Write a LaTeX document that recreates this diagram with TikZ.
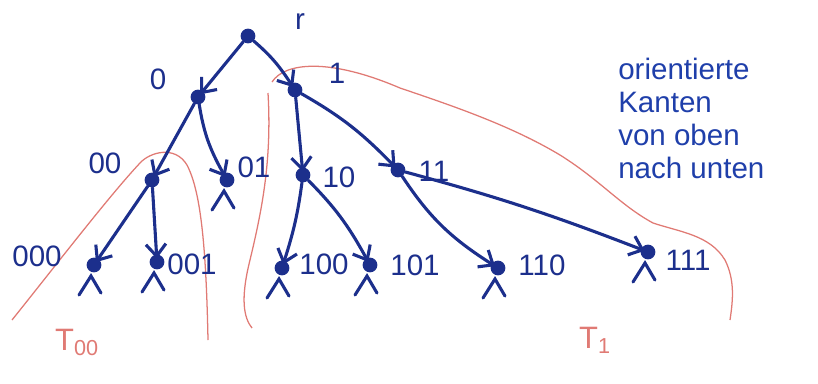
\documentclass[tikz,border=0pt]{standalone}
\usepackage{fontspec}
\setmainfont{Liberation Sans}
\usetikzlibrary{arrows.meta}
\definecolor{pen}{HTML}{1C2F8C}
\definecolor{inkb}{HTML}{1F3FAA}
\definecolor{redpen}{HTML}{E07A74}
\tikzset{
  vtx/.style={circle,fill=pen,inner sep=0pt,minimum size=10.5pt},
  lbl/.style={text=pen,font=\fontsize{21}{24}\selectfont,inner sep=0pt},
  edge/.style={draw=pen,line width=2.2pt,line cap=round,-{Straight Barb[length=3mm,width=5mm,line width=2.2pt]},shorten >=-3pt},
  nilmark/.style={draw=pen,line width=2.2pt,line cap=round},
  region/.style={draw=redpen,line width=0.9pt},
  redlbl/.style={text=redpen,font=\fontsize{22}{24}\selectfont,inner sep=0pt},
  note/.style={text=inkb,font=\fontsize{21}{23.5}\selectfont,align=left,inner sep=0pt}
}
\begin{document}
\begin{tikzpicture}[x=0.025cm,y=-0.025cm]
\useasboundingbox (0,0) rectangle (818,383);
% red subtree regions
\draw[region] (12,320) .. controls (60,260) and (110,195) .. (140,163)
  .. controls (150,152) and (175,145) .. (187,165)
  .. controls (200,190) and (206,240) .. (208,340);
\draw[region] (268,93) .. controls (272,160) and (262,210) .. (250,260)
  .. controls (240,300) and (244,318) .. (252,328);
\draw[region] (272,82) .. controls (285,62) and (330,58) .. (400,88)
  .. controls (450,105) and (510,125) .. (560,155)
  .. controls (600,180) and (620,205) .. (653,223)
  .. controls (680,232) and (710,235) .. (725,260)
  .. controls (735,280) and (733,300) .. (730,320);
\node[redlbl] (T00) at (77,342) {T$_{\mathrm{00}}$};
\node[redlbl] (T1) at (595,340) {T$_{\mathrm{1}}$};
% vertices
\node[vtx] (r) at (248,36) {};
\node[vtx] (n0) at (198,97) {};
\node[vtx] (n1) at (295,90) {};
\node[vtx] (n00) at (152,180) {};
\node[vtx] (n01) at (227,180) {};
\node[vtx] (n10) at (303,175) {};
\node[vtx] (n11) at (398,170) {};
\node[vtx] (n000) at (94,265) {};
\node[vtx] (n001) at (157,262) {};
\node[vtx] (n100) at (282,268) {};
\node[vtx] (n101) at (370,265) {};
\node[vtx] (n110) at (498,268) {};
\node[vtx] (n111) at (648,252) {};
% labels
\node[lbl] (lr) at (300,22) {r};
\node[lbl] (l0) at (158,79) {0};
\node[lbl] (l1) at (337,73) {1};
\node[lbl] (l00) at (105,163) {00};
\node[lbl] (l01) at (254,167) {01};
\node[lbl] (l10) at (339,177) {10};
\node[lbl] (l11) at (434,171) {11};
\node[lbl] (l000) at (37,256) {000};
\node[lbl] (l001) at (192,264) {001};
\node[lbl] (l100) at (324,264) {100};
\node[lbl] (l101) at (415,265) {101};
\node[lbl] (l110) at (542,265) {110};
\node[lbl] (l111) at (688,260) {111};
% edges
\draw[edge] (r) -- (n0);
\draw[edge] (r) to[bend left=8] (n1);
\draw[edge] (n0) -- (n00);
\draw[edge] (n0) to[bend right=10] (n01);
\draw[edge] (n1) -- (n10);
\draw[edge] (n1) to[bend left=8] (n11);
\draw[edge] (n00) -- (n000);
\draw[edge] (n00) -- (n001);
\draw[edge] (n10) to[bend left=5] (n100);
\draw[edge] (n10) to[bend left=8] (n101);
\draw[edge] (n11) to[bend right=12] (n110);
\draw[edge] (n11) to[bend left=3] (n111);
% nil marks
\foreach \v in {n01,n000,n001,n100,n101,n110,n111}{
  \draw[nilmark] ([shift={(-15,30)}]\v.center) -- ([shift={(-3,11)}]\v.center) -- ([shift={(7,28)}]\v.center);
}
% note
\node[note,anchor=north west] (txt) at (618,58) {orientierte\\Kanten\\von oben\\nach unten};
\end{tikzpicture}
\end{document}
